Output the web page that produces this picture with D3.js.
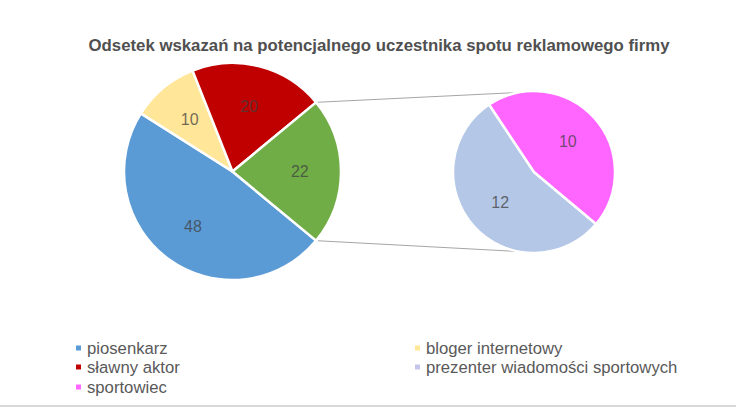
<!DOCTYPE html>
<html>
<head>
<meta charset="utf-8">
<script src="https://cdn.jsdelivr.net/npm/d3@7"></script>
<style>
  body { margin: 0; background: #fff; }
  svg { display: block; font-family: "Liberation Sans", Arial, sans-serif; }
</style>
</head>
<body>
<script>
"use strict";

const title = "Odsetek wskazań na potencjalnego uczestnika spotu reklamowego firmy";
const categories = ["piosenkarz", "bloger internetowy", "sławny aktor",
                    "prezenter wiadomości sportowych", "sportowiec"];
const values = [48, 10, 20, 12, 10];
const inSecondPie = [false, false, false, true, true];
const colors = ["#5b9bd5", "#ffe699", "#c00000", "#b4c7e7", "#ff66ff"];
const legendColors = ["#5b9bd5", "#ffe699", "#c00000", "#c5c5ec", "#ff66ff"];
const otherColor = "#70ad47";

const width = 736, height = 408;
const main = { cx: 232.5, cy: 171.5, r: 108.5 };
const second = { cx: 534, cy: 172, r: 81 };
const deg = Math.PI / 180;

const svg = d3.select("body").append("svg")
    .attr("width", width)
    .attr("height", height);

svg.append("rect")
    .attr("width", width).attr("height", height)
    .attr("fill", "#fff");

// bottom border of chart area
svg.append("line")
    .attr("x1", 0).attr("x2", width)
    .attr("y1", 406).attr("y2", 406)
    .attr("stroke", "#d9d9d9")
    .attr("stroke-width", 2);

svg.append("text")
    .attr("x", 379).attr("y", 51)
    .attr("text-anchor", "middle")
    .attr("font-size", 16.8)
    .attr("font-weight", "bold")
    .attr("fill", "#505050")
    .text(title);

// data for both pies
const mainData = categories
    .map((c, i) => ({ name: c, value: values[i], color: colors[i] }))
    .filter((d, i) => !inSecondPie[i]);
const secondData = categories
    .map((c, i) => ({ name: c, value: values[i], color: colors[i] }))
    .filter((d, i) => inSecondPie[i]);
const otherTotal = d3.sum(secondData, d => d.value);
mainData.push({ name: "Inne", value: otherTotal, color: otherColor });

const total = d3.sum(mainData, d => d.value);
const mainStart = Math.PI / 2 + (otherTotal / total) * Math.PI;
const secondStart = 130 * deg;

const mainPie = d3.pie().sort(null).value(d => d.value)
    .startAngle(mainStart).endAngle(mainStart + 2 * Math.PI);
const secondPie = d3.pie().sort(null).value(d => d.value)
    .startAngle(secondStart).endAngle(secondStart + 2 * Math.PI);

const mainArcs = mainPie(mainData);
const secondArcs = secondPie(secondData);

// connector lines
const otherArc = mainArcs[mainArcs.length - 1];
const pt = (c, r, a) => [c.cx + r * Math.sin(a), c.cy - r * Math.cos(a)];
const connectors = [
    [pt(main, main.r, otherArc.startAngle), pt(second, second.r, -11 * deg)],
    [pt(main, main.r, otherArc.endAngle), pt(second, second.r, 191 * deg)]
];
svg.append("g").selectAll("line")
    .data(connectors)
    .join("line")
    .attr("x1", d => d[0][0]).attr("y1", d => d[0][1])
    .attr("x2", d => d[1][0]).attr("y2", d => d[1][1])
    .attr("stroke", "#a6a6a6")
    .attr("stroke-width", 1);

const drawPie = (arcs, c, labelFrac) => {
    const g = svg.append("g")
        .attr("transform", `translate(${c.cx},${c.cy})`);
    const arc = d3.arc().innerRadius(0).outerRadius(c.r);
    const labelArc = d3.arc()
        .innerRadius(c.r * labelFrac)
        .outerRadius(c.r * labelFrac);
    g.selectAll("path")
        .data(arcs)
        .join("path")
        .attr("d", arc)
        .attr("fill", d => d.data.color)
        .attr("stroke", "#fff")
        .attr("stroke-width", 2.5)
        .attr("stroke-linejoin", "round");
    g.selectAll("text")
        .data(arcs)
        .join("text")
        .attr("transform", d => `translate(${labelArc.centroid(d)})`)
        .attr("text-anchor", "middle")
        .attr("dy", "0.35em")
        .attr("font-size", 16)
        .attr("fill", "#404040")
        .attr("fill-opacity", 0.75)
        .text(d => d.data.value);
};

drawPie(mainArcs, main, 0.62);
drawPie(secondArcs, second, 0.56);

// legend, two columns filled row by row
const colX = [76, 415];
const rowY = [348, 367, 387];
const legend = svg.append("g").selectAll("g")
    .data(categories)
    .join("g")
    .attr("transform", (d, i) => `translate(${colX[i % 2]},${rowY[Math.floor(i / 2)]})`);
legend.append("rect")
    .attr("x", 0).attr("y", -2.5)
    .attr("width", 5).attr("height", 5)
    .attr("fill", (d, i) => legendColors[i]);
legend.append("text")
    .attr("x", 11).attr("y", 6)
    .attr("font-size", 16.7)
    .attr("fill", "#595959")
    .text(d => d);
</script>
</body>
</html>
